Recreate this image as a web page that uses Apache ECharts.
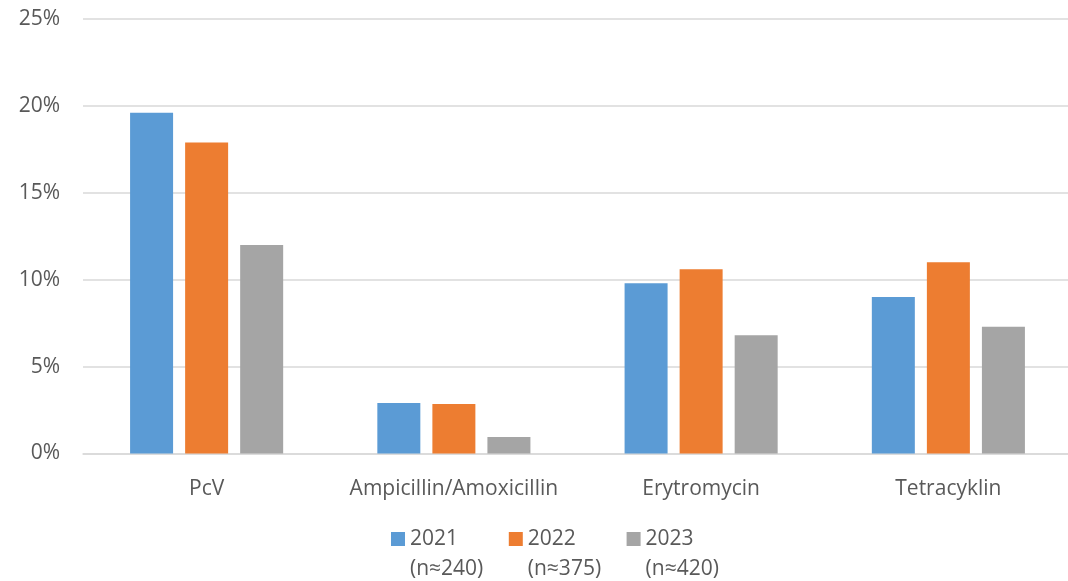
<!DOCTYPE html>
<html>
<head>
<meta charset="utf-8">
<script src="https://cdn.jsdelivr.net/npm/echarts@6/dist/echarts.min.js"></script>
<style>html,body{margin:0;padding:0;background:#fff;overflow:hidden;}#c{width:1068px;height:581px;}</style>
</head>
<body>
<div id="c"></div>
<script>
const categories = ['PcV', 'Ampicillin/Amoxicillin', 'Erytromycin', 'Tetracyklin'];
const seriesNames = ['2021\n(n≈240)', '2022\n(n≈375)', '2023\n(n≈420)'];
const values2021 = [19.6, 2.9, 9.8, 9.0];
const values2022 = [17.9, 2.85, 10.6, 11.0];
const values2023 = [12.0, 0.95, 6.8, 7.3];
const yTicks = { min: 0, max: 25, interval: 5 };
const colors = ['#5B9BD5', '#ED7D31', '#A5A5A5'];

const font = 'Open Sans';
const chart = echarts.init(document.getElementById('c'), null, { renderer: 'canvas' });
const allValues = [values2021, values2022, values2023];
// square icon in the top part of a taller item so it lines up with the first text line
const legendIcon = 'path://M0,0L14,0L14,14L0,14Z M0,44L0.001,44';
chart.setOption({
  animation: false,
  color: colors,
  grid: { left: 83, right: -4, top: 19, bottom: 127.5, containLabel: false, outerBoundsMode: 'none' },
  legend: {
    left: 391, top: 524, padding: 0,
    itemWidth: 14, itemHeight: 44, itemGap: 25.5,
    icon: legendIcon,
    textStyle: { fontFamily: font, fontSize: 21, color: '#595959', lineHeight: 30 },
    data: seriesNames
  },
  xAxis: {
    type: 'category', data: categories,
    axisLine: { lineStyle: { color: '#D9D9D9', width: 1.5 } },
    axisTick: { show: false },
    axisLabel: { fontFamily: font, fontSize: 21, color: '#595959', margin: 25, interval: 0 }
  },
  yAxis: {
    type: 'value', min: yTicks.min, max: yTicks.max, interval: yTicks.interval,
    axisLine: { show: false }, axisTick: { show: false },
    axisLabel: { fontFamily: font, fontSize: 21, color: '#595959', margin: 23, formatter: '{value}%' },
    splitLine: { lineStyle: { color: '#D9D9D9', width: 1.5 } }
  },
  series: seriesNames.map((n, i) => ({
    name: n, type: 'bar', data: allValues[i],
    barWidth: 43, barGap: '28%'
  }))
});
</script>
</body>
</html>
